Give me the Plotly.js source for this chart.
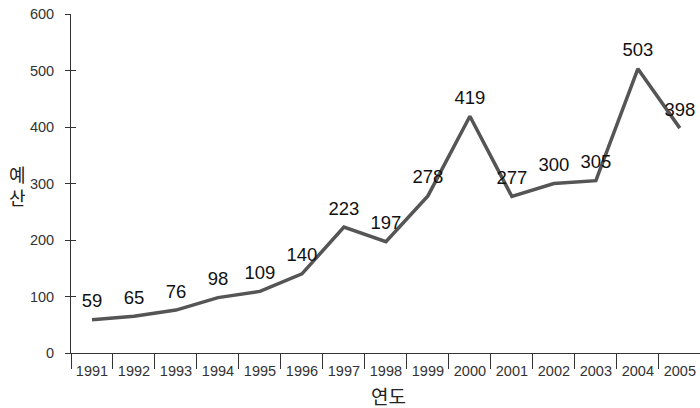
<!DOCTYPE html>
<html><head><meta charset="utf-8">
<script src="https://cdn.plot.ly/plotly-3.0.1.min.js"></script>
<style>body{margin:0;background:#fff}#c{width:700px;height:408px}</style>
</head><body><div id="c"></div>
<script>
const years = ["1991","1992","1993","1994","1995","1996","1997","1998","1999","2000","2001","2002","2003","2004","2005"];
const budget = [59,65,76,98,109,140,223,197,278,419,277,300,305,503,398];
const yTicks = [0,100,200,300,400,500,600];
const xTitle = "연도";
const yTitle = "예산";

const FONT = "Liberation Sans, Arial, Noto Sans CJK KR, sans-serif";
const trace = {
  x: years, y: budget, type: "scatter", mode: "lines+markers+text",
  text: budget.map(String), textposition: "top center",
  textfont: {family: FONT, size: 18.5, color: "#111"},
  marker: {size: 11, color: "rgba(0,0,0,0)"},
  line: {color: "#555", width: 3.5},
  cliponaxis: false, hoverinfo: "none"
};
const layout = {
  width: 700, height: 408,
  margin: {l: 71, r: 0, t: 14, b: 55},
  paper_bgcolor: "#fff", plot_bgcolor: "#fff",
  showlegend: false,
  font: {family: FONT, color: "#333", size: 14},
  xaxis: {
    type: "category", range: [-0.5, 14.48],
    tickson: "boundaries", ticks: "outside", ticklen: 15, tickwidth: 1, tickcolor: "#333",
    ticklabelstandoff: 5,
    showline: true, linecolor: "#333", linewidth: 1,
    showgrid: false, zeroline: false,
    tickfont: {family: FONT, size: 14.5, color: "#333"}
  },
  yaxis: {
    range: [0, 600], tickvals: yTicks, ticktext: yTicks.map(String),
    ticks: "outside", ticklen: 5, tickwidth: 1, tickcolor: "#333",
    ticklabelstandoff: 8,
    showline: true, linecolor: "#333", linewidth: 1,
    showgrid: false, zeroline: false,
    tickfont: {family: FONT, size: 14.5, color: "#333"}
  },
  yaxis2: {
    overlaying: "y", range: [0, 600], tickvals: yTicks, showticklabels: false,
    ticks: "inside", ticklen: 5, tickwidth: 1, tickcolor: "#333",
    showline: false, showgrid: false, zeroline: false, side: "left"
  },
  annotations: [
    {text: xTitle, xref: "paper", yref: "paper", x: 0.505, y: 0, yshift: -44,
     showarrow: false, font: {family: FONT, size: 19, color: "#222"}, yanchor: "middle"},
    {text: yTitle.split("").join("<br>"), xref: "paper", yref: "paper", x: 0, xshift: -54, y: 0.487,
     showarrow: false, font: {family: FONT, size: 18, color: "#222"}, xanchor: "center", yanchor: "middle"}
  ]
};
const dummy = {x: [years[0]], y: [0], yaxis: "y2", type: "scatter", mode: "none", hoverinfo: "none"};
Plotly.newPlot("c", [trace, dummy], layout, {staticPlot: true});
</script></body></html>
